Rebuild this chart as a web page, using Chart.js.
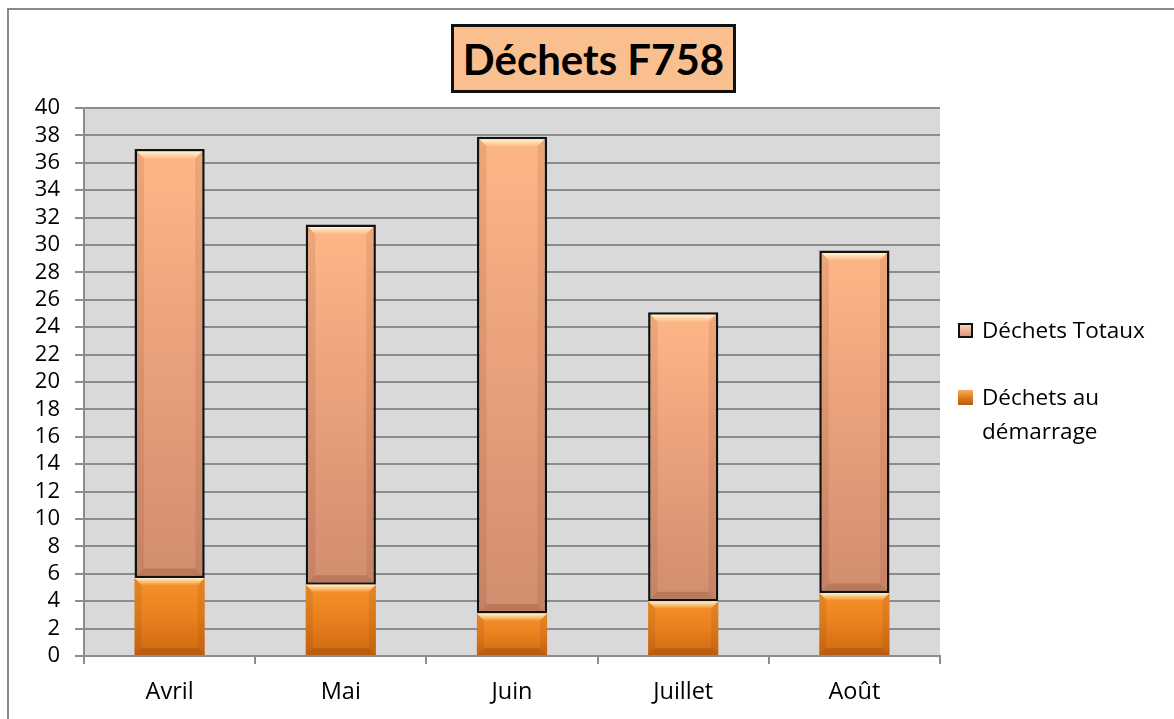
<!DOCTYPE html>
<html lang="fr">
<head>
<meta charset="utf-8">
<script src="https://cdn.jsdelivr.net/npm/chart.js@4"></script>
<style>
  body { margin: 0; background: #fff; font-family: "Open Sans", "Noto Sans", sans-serif; }
  #cadre { position: relative; width: 1174px; height: 719px; overflow: hidden; }
  #bord { position: absolute; left: 7px; top: 8px; width: 1200px; height: 760px; border: 2px solid #8a8a8a; box-sizing: border-box; }
  #graphique { position: absolute; left: 0; top: 0; }
  #titre {
    position: absolute; left: 451px; top: 24px; width: 285px; height: 69px;
    box-sizing: border-box; border: 3px solid #111; background: #fabf8f;
    font: bold 42px Lato, sans-serif; color: #000;
    display: flex; align-items: center; justify-content: center;
  }
  .legende { position: absolute; left: 958px; font-size: 22.5px; color: #000; line-height: 34px; }
  .legende .carre { position: absolute; left: 0; top: 10px; width: 15px; height: 15px; box-sizing: border-box; }
  .legende span { display: block; margin-left: 24px; }
</style>
</head>
<body>
<div id="cadre">
  <div id="bord"></div>
  <canvas id="graphique" width="1174" height="719"></canvas>
  <div id="titre">Déchets F758</div>
  <div class="legende" style="top:313px">
    <div class="carre" style="border:2px solid #111;background:linear-gradient(#fbd3b0,#d8957a)"></div>
    <span>Déchets Totaux</span>
  </div>
  <div class="legende" style="top:380px">
    <div class="carre" style="background:linear-gradient(#f8b060,#e07a1c 50%,#b85c10)"></div>
    <span>Déchets au<br>démarrage</span>
  </div>
</div>
<script>
const mois = ["Avril", "Mai", "Juin", "Juillet", "Août"];
const dechetsTotaux = [37.0, 31.5, 37.9, 25.1, 29.6];
const dechetsDemarrage = [5.7, 5.2, 3.1, 4.0, 4.6];

// degrade vertical sur la hauteur visible de chaque barre
function degrade(context, couleurs) {
  const chart = context.chart;
  if (!chart.chartArea) return couleurs[1];
  const y = chart.scales.y;
  const raw = context.raw;
  let bas = 0, haut = raw;
  if (Array.isArray(raw)) { bas = raw[0]; haut = raw[1]; }
  const g = chart.ctx.createLinearGradient(0, y.getPixelForValue(haut), 0, y.getPixelForValue(bas));
  g.addColorStop(0, couleurs[0]);
  g.addColorStop(0.5, couleurs[1]);
  g.addColorStop(1, couleurs[2]);
  return g;
}

const fondGris = {
  id: "fondGris",
  beforeDraw(chart) {
    const a = chart.chartArea;
    chart.ctx.save();
    chart.ctx.fillStyle = "#d9d9d9";
    chart.ctx.fillRect(a.left, a.top, a.right - a.left, a.bottom - a.top);
    chart.ctx.restore();
  }
};

// petit effet de biseau comme dans Excel
const biseau = {
  id: "biseau",
  afterDatasetsDraw(chart) {
    const ctx = chart.ctx;
    chart.data.datasets.forEach((ds, i) => {
      const meta = chart.getDatasetMeta(i);
      const b = ds.borderWidth || 0;
      meta.data.forEach(el => {
        const p = el.getProps(["x", "y", "base", "width"], true);
        const l = p.x - p.width / 2 + b, r = p.x + p.width / 2 - b;
        const t = Math.min(p.y, p.base) + b, bo = Math.max(p.y, p.base) - b;
        const h = 7;
        ctx.save();
        let g = ctx.createLinearGradient(0, t, 0, t + h);
        g.addColorStop(0, "rgba(255,250,215,0.95)");
        g.addColorStop(1, "rgba(255,240,200,0.1)");
        ctx.fillStyle = g;
        ctx.beginPath();
        ctx.moveTo(l, t); ctx.lineTo(r, t); ctx.lineTo(r - h, t + h); ctx.lineTo(l + h, t + h);
        ctx.closePath(); ctx.fill();
        ctx.fillStyle = "rgba(90,40,0,0.1)";
        ctx.beginPath();
        ctx.moveTo(l, t); ctx.lineTo(l + h, t + h); ctx.lineTo(l + h, bo - h); ctx.lineTo(l, bo);
        ctx.closePath(); ctx.fill();
        ctx.beginPath();
        ctx.moveTo(r, t); ctx.lineTo(r - h, t + h); ctx.lineTo(r - h, bo - h); ctx.lineTo(r, bo);
        ctx.closePath(); ctx.fill();
        ctx.fillStyle = "rgba(90,40,0,0.2)";
        ctx.beginPath();
        ctx.moveTo(l, bo); ctx.lineTo(r, bo); ctx.lineTo(r - h, bo - h); ctx.lineTo(l + h, bo - h);
        ctx.closePath(); ctx.fill();
        ctx.restore();
      });
    });
  }
};

const ctx = document.getElementById("graphique").getContext("2d");
const chart = new Chart(ctx, {
  type: "bar",
  data: {
    labels: mois,
    datasets: [
      {
        label: "Déchets au démarrage",
        data: dechetsDemarrage,
        backgroundColor: c => degrade(c, ["#f5922a", "#e8801e", "#cf6812"]),
        borderWidth: 0,
        order: 0
      },
      {
        label: "Déchets Totaux",
        data: dechetsTotaux.map((t, i) => [dechetsDemarrage[i], t]),
        backgroundColor: c => degrade(c, ["#ffb686", "#e9a07c", "#d28d70"]),
        borderColor: "#111",
        borderWidth: 2.5,
        borderSkipped: false,
        order: 1
      }
    ]
  },
  options: {
    responsive: false,
    animation: false,
    layout: { padding: { top: 108, right: 234, bottom: 0, left: 0 } },
    datasets: { bar: { categoryPercentage: 1, barPercentage: 0.41 } },
    plugins: {
      legend: { display: false },
      tooltip: { enabled: false }
    },
    scales: {
      x: {
        stacked: true,
        afterFit(s) { s.height = 63; },
        grid: { drawOnChartArea: false, color: "#8c8c8c", lineWidth: 2, tickLength: 8 },
        border: { color: "#8c8c8c", width: 2 },
        ticks: { color: "#000", padding: 14, font: { family: "Open Sans", size: 23.5 } }
      },
      y: {
        stacked: false,
        min: 0,
        max: 40,
        afterFit(s) { s.width = 84; },
        grid: { color: "#8c8c8c", lineWidth: 2, tickLength: 9 },
        border: { color: "#8c8c8c", width: 2 },
        ticks: { stepSize: 2, autoSkip: false, color: "#000", padding: 15, font: { family: "Open Sans", size: 22, lineHeight: 0.6 } }
      }
    }
  },
  plugins: [fondGris, biseau]
});
</script>
</body>
</html>
